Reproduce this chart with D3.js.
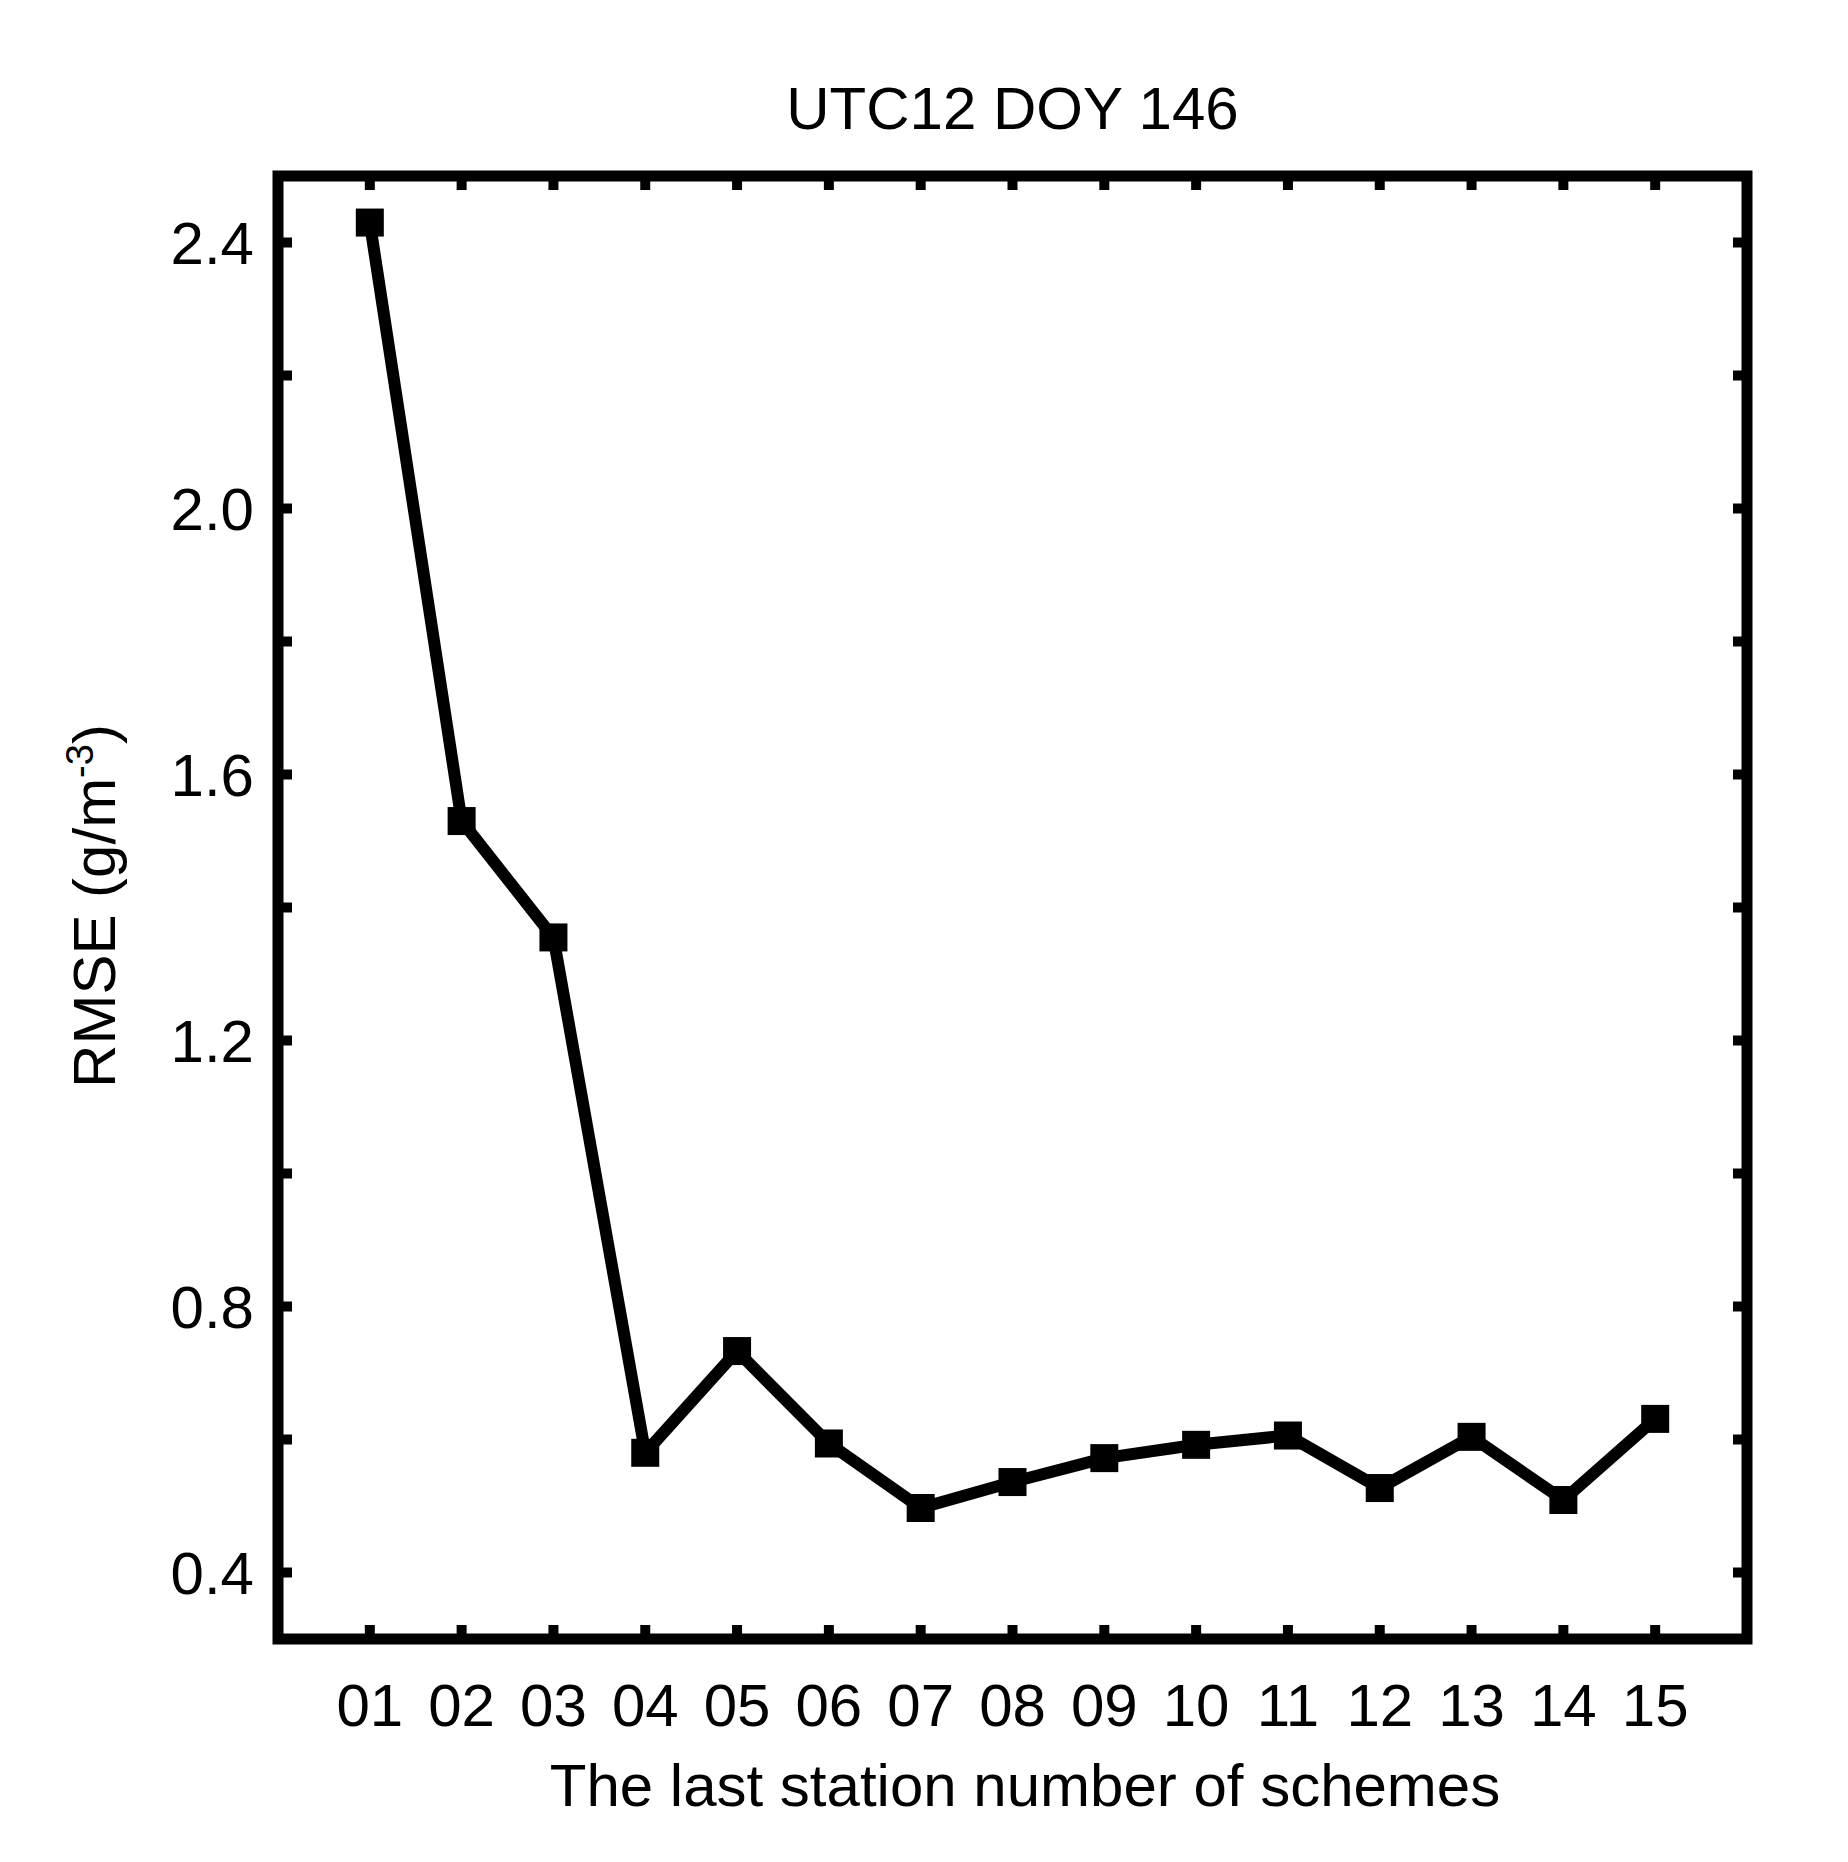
<!DOCTYPE html>
<html><head><meta charset="utf-8">
<script src="https://cdn.jsdelivr.net/npm/d3@7"></script>
<style>body{margin:0;background:#fff}svg{font-family:"Liberation Sans",Arial,sans-serif}</style>
</head><body><svg id="c" width="1848" height="1862"></svg>
<script>
const stations = ["01","02","03","04","05","06","07","08","09","10","11","12","13","14","15"];
const rmse = [2.43,1.53,1.355,0.58,0.733,0.594,0.497,0.536,0.572,0.592,0.606,0.527,0.604,0.509,0.631];
const yTicks = [0.4,0.8,1.2,1.6,2.0,2.4];
const title = "UTC12 DOY 146";

const svg = d3.select("#c");
const L=278,R=1747,T=176,B=1639;
const x = d3.scaleLinear().domain([0,16]).range([L,R]);
const y = d3.scaleLinear().domain([0.3,2.5]).range([B,T]);
const idx = stations.map((s,i)=>i+1);
const tl = 14;
// ticks
const minor = d3.range(0.4,2.45,0.2);
const g = svg.append("g").attr("stroke","#000").attr("stroke-width",10);
minor.forEach(v=>{
  g.append("line").attr("x1",L).attr("x2",L+tl).attr("y1",y(v)).attr("y2",y(v));
  g.append("line").attr("x1",R).attr("x2",R-tl).attr("y1",y(v)).attr("y2",y(v));
});
idx.forEach(i=>{
  g.append("line").attr("x1",x(i)).attr("x2",x(i)).attr("y1",B).attr("y2",B-tl);
  g.append("line").attr("x1",x(i)).attr("x2",x(i)).attr("y1",T).attr("y2",T+tl);
});
svg.append("rect").attr("x",L).attr("y",T).attr("width",R-L).attr("height",B-T)
  .attr("fill","none").attr("stroke","#000").attr("stroke-width",11);
// labels
yTicks.forEach(v=>svg.append("text").attr("x",L-24).attr("y",y(v)).attr("dy","0.36em")
  .attr("text-anchor","end").attr("font-size",60).text(v.toFixed(1)));
stations.forEach((s,i)=>svg.append("text").attr("x",x(i+1)).attr("y",1726)
  .attr("text-anchor","middle").attr("font-size",60).text(s));
svg.append("text").attr("x",1025).attr("y",1806).attr("text-anchor","middle").attr("font-size",60)
  .text("The last station number of schemes");
svg.append("text").attr("x",(L+R)/2).attr("y",129).attr("text-anchor","middle").attr("font-size",60).text(title);
const yl = svg.append("text").attr("transform","translate(115,906) rotate(-90)").attr("text-anchor","middle").attr("font-size",60);
yl.append("tspan").text("RMSE (g/m");
yl.append("tspan").attr("font-size",38).attr("dy",-22).text("-3");
yl.append("tspan").attr("dy",22).text(")");
// line
const line = d3.line().x((d,i)=>x(i+1)).y(d=>y(d));
svg.append("path").datum(rmse).attr("d",line).attr("fill","none").attr("stroke","#000")
  .attr("stroke-width",12).attr("stroke-linejoin","miter");
const m=28;
svg.selectAll("rect.m").data(rmse).join("rect").attr("class","m")
  .attr("x",(d,i)=>x(i+1)-m/2).attr("y",d=>y(d)-m/2).attr("width",m).attr("height",m).attr("fill","#000");
</script></body></html>
